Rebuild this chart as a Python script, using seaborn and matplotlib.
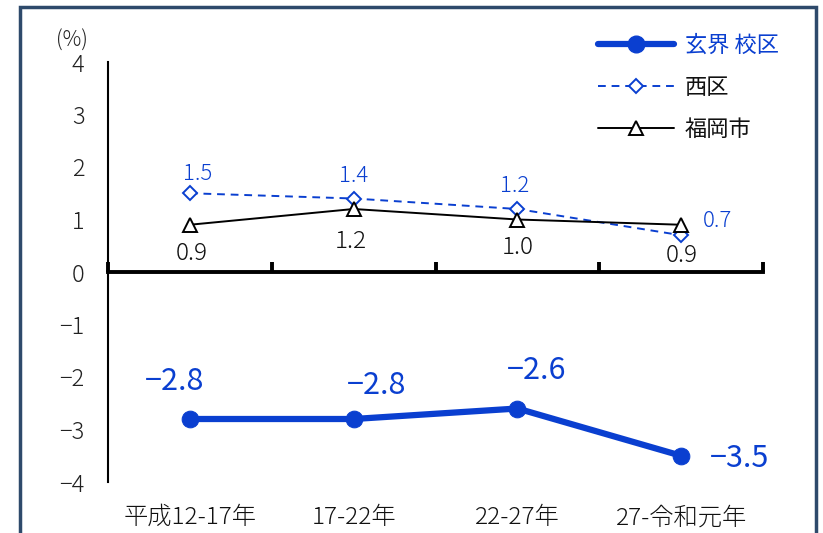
import matplotlib
matplotlib.use("Agg")
import matplotlib.pyplot as plt
import seaborn as sns
import numpy as np
import pandas as pd
from matplotlib.patches import Rectangle
from matplotlib.lines import Line2D

categories = ["平成12-17年", "17-22年", "22-27年", "27-令和元年"]
genkai = [-2.8, -2.8, -2.6, -3.5]
nishi = [1.5, 1.4, 1.2, 0.7]
fukuoka = [0.9, 1.2, 1.0, 0.9]
series_names = ["玄界 校区", "西区", "福岡市"]
yticks = [4, 3, 2, 1, 0, -1, -2, -3, -4]

sns.set_theme(style="white")
plt.rcParams['font.family'] = ['Noto Sans CJK JP', 'DejaVu Sans']
plt.rcParams['axes.unicode_minus'] = True

NUMFONT = ['Noto Sans CJK JP', 'DejaVu Sans']
LIGHT = 300

BLUE = "#0A3FD0"
fig = plt.figure(figsize=(8.23, 5.33), dpi=100)
ax = fig.add_axes([108/823, 1-482/533, (763-108)/823, (482-62)/533])

x = np.arange(len(categories))
df = pd.DataFrame({"x": np.tile(x, 3),
                   "v": genkai + nishi + fukuoka,
                   "s": np.repeat(series_names, len(categories))})

sns.lineplot(data=df[df.s == series_names[0]], x="x", y="v", ax=ax, color=BLUE,
             lw=4.5, marker="o", markersize=12, markeredgecolor=BLUE, legend=False)
sns.lineplot(data=df[df.s == series_names[1]], x="x", y="v", ax=ax, color=BLUE,
             lw=1.4, linestyle=(0, (4, 3)), marker="D", markersize=7.5,
             markerfacecolor="white", markeredgecolor=BLUE, markeredgewidth=1.4, legend=False)
sns.lineplot(data=df[df.s == series_names[2]], x="x", y="v", ax=ax, color="black",
             lw=1.4, marker="^", markersize=10,
             markerfacecolor="white", markeredgecolor="black", markeredgewidth=1.4, legend=False)

ax.set_xlim(-0.5, len(categories) - 0.5)
ax.set_ylim(-4, 4)
ax.set_xlabel("")
ax.set_ylabel("")
ax.set_yticks(yticks)
ax.set_yticklabels([f"{t:d}".replace("-", "\u2212") for t in yticks], fontsize=17,
                   color="#222222", family=NUMFONT, fontweight=LIGHT)
ax.tick_params(axis="y", length=0, pad=17)

for s in ["top", "right"]:
    ax.spines[s].set_visible(False)
ax.spines["left"].set_color("black")
ax.spines["left"].set_linewidth(1.5)
ax.spines["bottom"].set_position(("data", 0))
ax.spines["bottom"].set_color("black")
ax.spines["bottom"].set_linewidth(2.8)
ax.set_xticks(np.arange(-0.5, len(categories)))
ax.set_xticklabels([])
ax.tick_params(axis="x", bottom=True, direction="in", length=7, width=2.8, color="black")

for xi, c in zip(x, categories):
    ax.text(xi, -0.085, c, transform=ax.get_xaxis_transform(), ha="center", va="center",
            fontsize=17.5, color="#111111", family=NUMFONT, fontweight=LIGHT)

ax.text(-0.055, 1.05, "(%)", transform=ax.transAxes, ha="center", va="center",
        fontsize=15, color="#222222", family=NUMFONT, fontweight=LIGHT)

def fmt(v):
    return f"{v:.1f}".replace("-", "\u2212")

off_g = [(-15, 37), (23, 34), (19, 38), (58, -3)]
off_n = [(8, 19), (0, 22), (-3, 23), (36, 14)]
off_f = [(2, -29), (-3, -33), (0, -28), (1, -31)]
for xi, v, o in zip(x, genkai, off_g):
    ax.annotate(fmt(v), (xi, v), xytext=o, textcoords="offset pixels", ha="center", va="center",
                fontsize=22, color=BLUE, family=NUMFONT)
for xi, v, o in zip(x, nishi, off_n):
    ax.annotate(fmt(v), (xi, v), xytext=o, textcoords="offset pixels", ha="center", va="center",
                fontsize=16, color=BLUE, family=NUMFONT, fontweight=LIGHT)
for xi, v, o in zip(x, fukuoka, off_f):
    ax.annotate(fmt(v), (xi, v), xytext=o, textcoords="offset pixels", ha="center", va="center",
                fontsize=17.5, color="#111111", family=NUMFONT, fontweight=LIGHT)

handles = [
    Line2D([], [], color=BLUE, lw=4.5, marker="o", markersize=12),
    Line2D([], [], color=BLUE, lw=1.4, linestyle=(0, (4, 3)), marker="D", markersize=7.5,
           markerfacecolor="white", markeredgecolor=BLUE, markeredgewidth=1.4),
    Line2D([], [], color="black", lw=1.4, marker="^", markersize=10,
           markerfacecolor="white", markeredgecolor="black", markeredgewidth=1.4),
]
leg = fig.legend(handles, series_names, loc="upper left", bbox_to_anchor=(578/823, 1-14/533),
                 frameon=False, fontsize=16, handlelength=3.4, labelspacing=0.85, handletextpad=0.5)
leg.get_texts()[0].set_color(BLUE)
for t in leg.get_texts()[1:]:
    t.set_color("#111111")

fig.patches.append(Rectangle((20/823, -0.05), (816-20)/823, 1 - 7/533 + 0.05,
                             transform=fig.transFigure, fill=False, edgecolor="#2E4A6B",
                             linewidth=2.5, clip_on=False))

fig.savefig("out.png", dpi=100)
